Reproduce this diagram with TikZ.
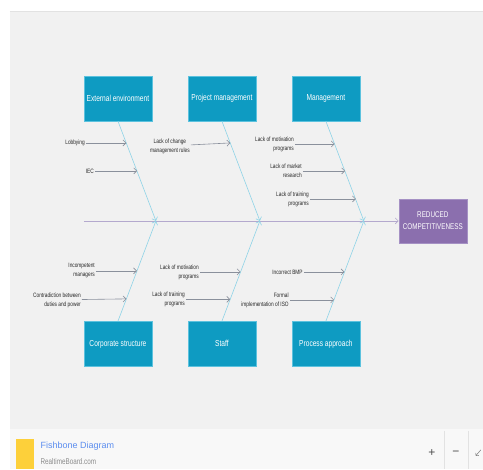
\documentclass[tikz,border=0pt]{standalone}
\usepackage{fontspec}
\setmainfont{Liberation Sans}
\newfontfamily\narrowfont{Liberation Sans}[FakeStretch=0.76]
\usetikzlibrary{arrows.meta}
\definecolor{panelgray}{HTML}{F1F1F1}
\definecolor{paneledge}{HTML}{E2E2E2}
\definecolor{footgray}{HTML}{F8F8F8}
\definecolor{notey}{HTML}{FDD03A}
\definecolor{boxblue}{HTML}{0E9BC2}
\definecolor{boxedge}{HTML}{5CC2DE}
\definecolor{effpurple}{HTML}{8B6FAE}
\definecolor{effedge}{HTML}{A591C4}
\definecolor{bonecol}{HTML}{8ED3E7}
\definecolor{causecol}{HTML}{8A909C}
\definecolor{spinecol}{HTML}{B4A9CE}
\definecolor{titleblue}{HTML}{5B8DEF}
\begin{document}
\begin{tikzpicture}[x=1pt, y=-1pt]
% board and footer
\fill[white] (0,0) rectangle (483,469);
\fill[panelgray] (10,11) rectangle (483,429);
\draw[paneledge] (10,11.5) -- (483,11.5);
\fill[footgray] (10,429) rectangle (483,469);
\fill[notey] (16,439) rectangle (34,469);
\draw[paneledge] (444,431) -- (444,469);
\draw[paneledge] (468,431) -- (468,469);
\draw[gray!80!black, -{Straight Barb[length=2pt,width=4pt]}] (481,450) -- (476,456);
\begin{scope}[every node/.style = {rectangle, draw=boxedge, fill=boxblue, text=white, minimum width=68pt, minimum height=45pt, inner sep=1pt, font=\narrowfont\fontsize{8.7}{10}\selectfont}]
\node (ext) at (118, 98.5) {External environment};
\node (prj) at (222, 98.5) {Project management};
\node (mgt) at (326, 98.5) {Management};
\node (cor) at (118, 344) {Corporate structure};
\node (stf) at (222, 344) {Staff};
\node (prc) at (326, 344) {Process approach};
\node[fill=effpurple, draw=effedge, minimum height=44pt, align=center, font=\narrowfont\fontsize{8.3}{12}\selectfont] (eff) at (433, 221) {REDUCED\\COMPETITIVENESS};
\end{scope}
\begin{scope}[every node/.style = {anchor=east, inner sep=1pt, align=right, text=black!85, font=\narrowfont\fontsize{6.3}{9}\selectfont}]
\node (lob) at (86, 143) {Lobbying};
\node (iec) at (95, 171) {IEC};
\node[align=center] (chg) at (191, 146) {Lack of change\\management rules};
\node (mot) at (295, 144) {Lack of motivation\\programs};
\node (mkt) at (303, 171) {Lack of market\\research};
\node (trn) at (310, 199) {Lack of training\\programs};
\node (inc) at (96, 271) {Incompetent\\managers};
\node (con) at (82, 300) {Contradiction between\\duties and power};
\node (stm) at (200, 272) {Lack of motivation\\programs};
\node (stt) at (186, 299.5) {Lack of training\\programs};
\node (bmp) at (304, 272) {Incorrect BMP};
\node (iso) at (290, 300) {Formal\\implementation of ISO};
\end{scope}
% spine and joints
\coordinate (tail) at (84, 221);
\coordinate (j1) at (156, 221);
\coordinate (j2) at (260, 221);
\coordinate (j3) at (364, 221);
% points on the bones
\coordinate (lobp) at (126.4, 143);
\coordinate (iecp) at (137.2, 171);
\coordinate (chgp) at (230.4, 143);
\coordinate (motp) at (334.8, 144);
\coordinate (mktp) at (345.2, 171);
\coordinate (trnp) at (356, 199);
\coordinate (incp) at (137, 271);
\coordinate (conp) at (126.5, 299);
\coordinate (stmp) at (240.6, 272);
\coordinate (sttp) at (230.3, 299.5);
\coordinate (bmpp) at (344.6, 272);
\coordinate (isop) at (334.2, 300);
\begin{scope}[every edge/.style = {draw, line width=0.6pt, -{Straight Barb[length=3pt,width=6pt]}}]
\path (tail) edge[spinecol] (eff);
\path (ext.south) edge[bonecol] (j1);
\path (prj.south) edge[bonecol] (j2);
\path (mgt.south) edge[bonecol] (j3);
\path (cor.north) edge[bonecol] (j1);
\path (stf.north) edge[bonecol] (j2);
\path (prc.north) edge[bonecol] (j3);
\path (lob) edge[causecol] (lobp);
\path (iec) edge[causecol] (iecp);
\path (chg) edge[causecol] (chgp);
\path (mot) edge[causecol] (motp);
\path (mkt) edge[causecol] (mktp);
\path (trn) edge[causecol] (trnp);
\path (inc) edge[causecol] (incp);
\path (con) edge[causecol] (conp);
\path (stm) edge[causecol] (stmp);
\path (stt) edge[causecol] (sttp);
\path (bmp) edge[causecol] (bmpp);
\path (iso) edge[causecol] (isop);
\end{scope}
% footer texts
\node[anchor=west, inner sep=0pt, text=titleblue, font=\fontsize{9}{10}\selectfont] (title) at (40.5, 446) {Fishbone Diagram};
\node[anchor=west, inner sep=0pt, text=black!45, font=\narrowfont\fontsize{8.3}{10}\selectfont] (site) at (40.5, 462) {RealtimeBoard.com};
\node[text=black!70, font=\fontsize{12}{12}\selectfont] (zin) at (432, 453) {+};
\node[text=black!70, font=\fontsize{12}{12}\selectfont] (zout) at (456, 453) {−};
\end{tikzpicture}
\end{document}
